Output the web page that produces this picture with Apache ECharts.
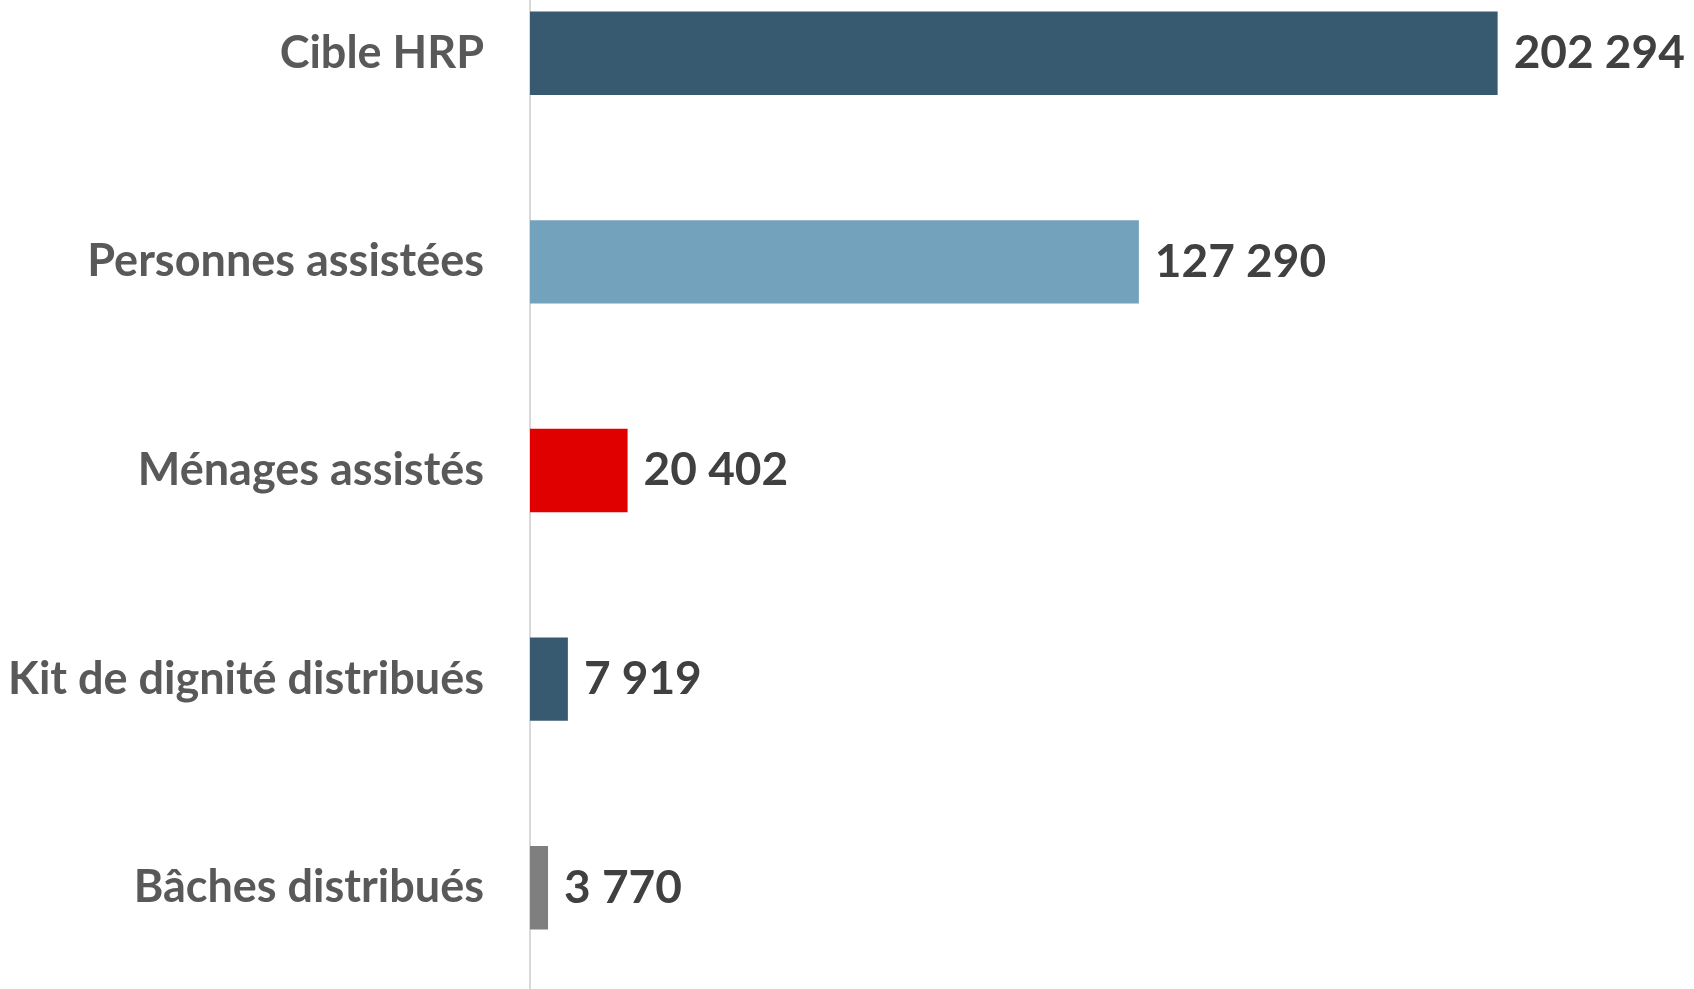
<!DOCTYPE html>
<html>
<head>
<meta charset="utf-8">
<script src="https://cdn.jsdelivr.net/npm/echarts@6/dist/echarts.min.js"></script>
<style>
  html, body { margin: 0; padding: 0; background: #fff; overflow: hidden; }
  /* plot area runs past the top of the picture, as in the source */
  #chart { position: absolute; left: 0; top: -51px; width: 1694px; height: 1043px; }
</style>
</head>
<body>
<div id="chart"></div>
<script>
// categories, top to bottom
const categories = ['Cible HRP', 'Personnes assistées', 'Ménages assistés', 'Kit de dignité distribués', 'Bâches distribués']
const values = [202294, 127290, 20402, 7919, 3770]
const barColors = ['#375a70', '#73a2bd', '#e00000', '#375a70', '#7f7f7f']

const chart = echarts.init(document.getElementById('chart'))

// 202 294 style (space as thousands separator)
const fmt = v => String(v).replace(/\B(?=(\d{3})+(?!\d))/g, ' ')

const option = {
    animation: false,
    grid: {
        left: 530,
        right: 16,
        top: 0,
        bottom: 0
    },
    xAxis: {
        type: 'value',
        min: 0,
        max: 240000,
        show: false
    },
    yAxis: {
        type: 'category',
        inverse: true,
        data: categories,
        axisTick: { show: false },
        axisLine: { lineStyle: { color: '#d9d9d9', width: 2 } },
        axisLabel: {
            margin: 46,
            color: '#595959',
            fontFamily: 'Lato',
            fontWeight: 'bold',
            fontSize: 45
        }
    },
    series: [{
        type: 'bar',
        barCategoryGap: '60%',
        data: values.map((v, i) => ({ value: v, itemStyle: { color: barColors[i] } })),
        label: {
            show: true,
            position: 'right',
            distance: 16,
            color: '#404040',
            fontFamily: 'Lato',
            fontWeight: 'bold',
            fontSize: 46,
            formatter: p => fmt(p.value)
        }
    }]
}

chart.setOption(option)
</script>
</body>
</html>
